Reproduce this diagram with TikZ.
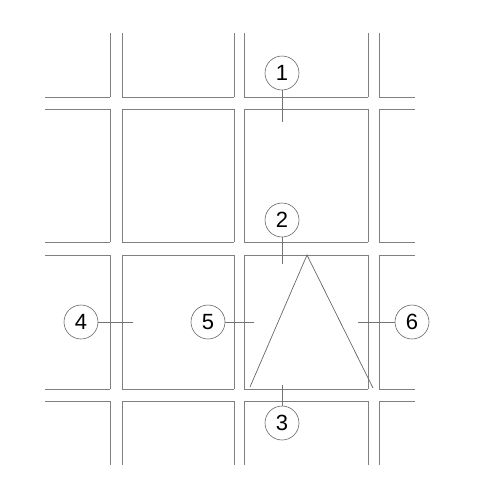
\documentclass[tikz,border=0pt]{standalone}
\usepackage{fontspec}
\setmainfont{Liberation Sans}
\usetikzlibrary{positioning}

\begin{document}
\begin{tikzpicture}[x=1pt,y=-1pt,
	wall/.style={draw=black!50,line width=0.9pt},
	tag/.style={circle,draw=black!60,line width=0.6pt,minimum size=34pt,inner sep=0pt,font=\fontsize{22}{22}\selectfont},
	lead/.style={draw=black!55,line width=0.6pt}]
\useasboundingbox (0,0) rectangle (490,483);
% blocks
\foreach \x in {110,122,234,244,368,379}
	\foreach \a/\b in {33/97,109/242,255/389,401/465}
		\draw[wall] (\x,\a) -- (\x,\b);
\foreach \y in {97,109,242,255,389,401}
	\foreach \a/\b in {45/110,122/234,244/368,379/415}
		\draw[wall] (\a,\y) -- (\b,\y);
% triangle
\draw[black!60,line width=0.7pt] (250,387) -- (307,255) -- (373,388);
% labels
\node[tag] (n1) at (282,73) {1};
\node[tag] (n2) at (282,220) {2};
\node[tag] (n3) at (282,423) {3};
\node[tag] (n4) at (81,322) {4};
\node[tag] (n5) at (208,322) {5};
\node[tag] (n6) at (412,322) {6};
\coordinate (p1) at (282,122);
\coordinate (p2) at (282,264);
\coordinate (p3) at (282,385);
\coordinate (p4) at (133,322);
\coordinate (p5) at (254,322);
\coordinate (p6) at (358,322);
\path[lead]
(n1) edge (p1)
(n2) edge (p2)
(n3) edge (p3)
(n4) edge (p4)
(n5) edge (p5)
(n6) edge (p6);
\end{tikzpicture}
\end{document}
